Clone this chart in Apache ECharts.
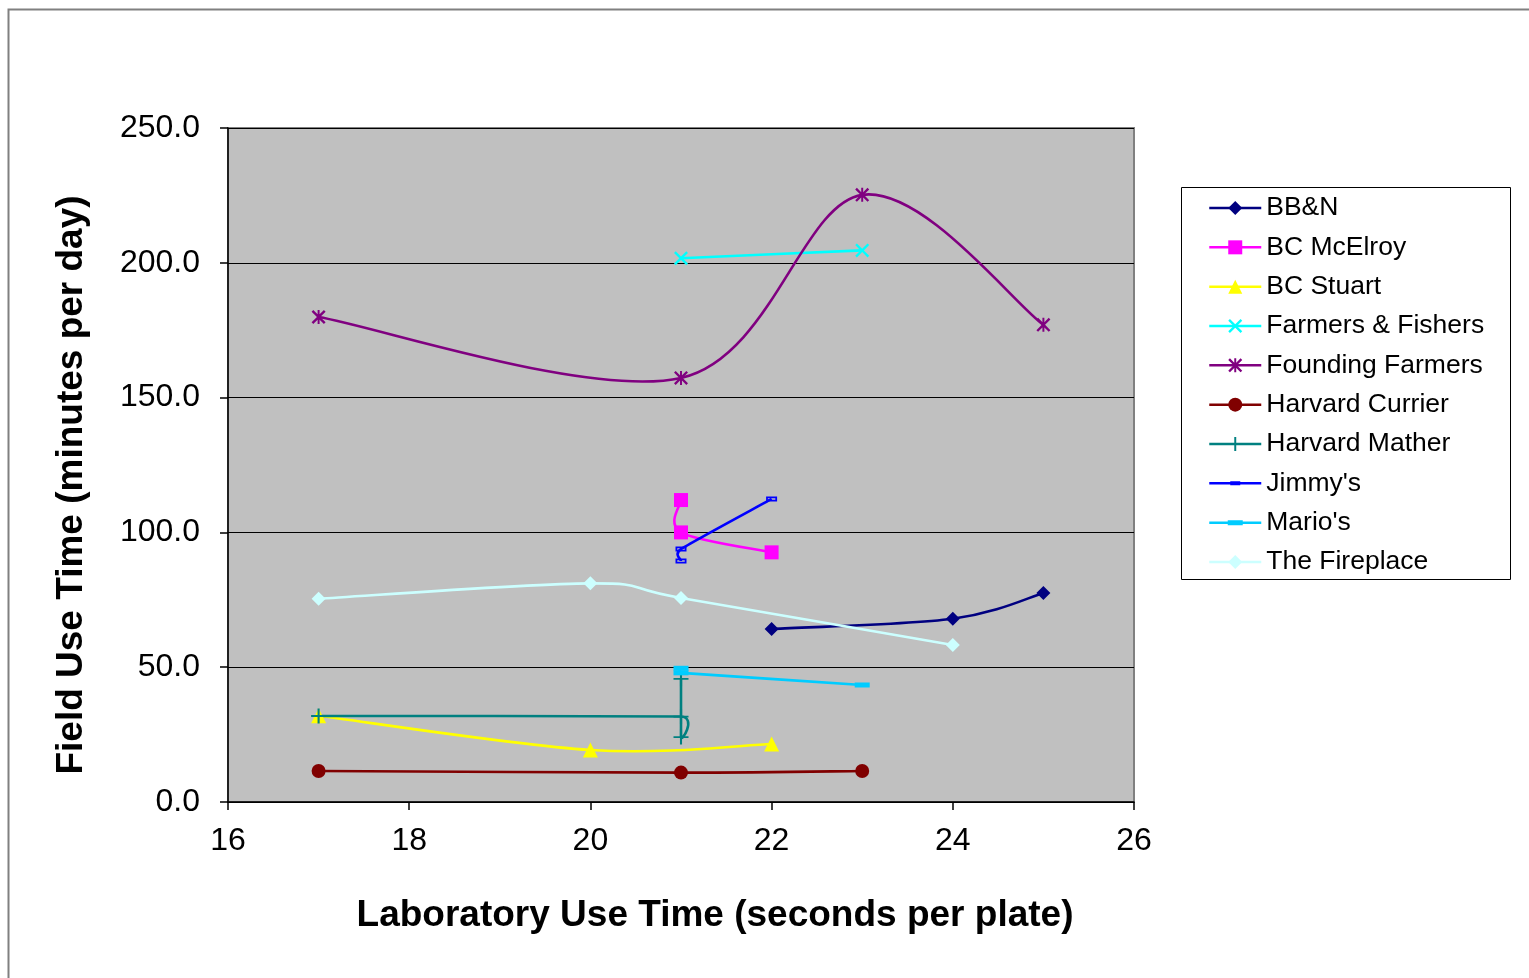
<!DOCTYPE html>
<html>
<head>
<meta charset="utf-8">
<script src="https://cdn.jsdelivr.net/npm/echarts@6/dist/echarts.min.js"></script>
<style>
  html, body { margin: 0; padding: 0; background: #ffffff; }
  #chart { width: 1529px; height: 978px; }
</style>
</head>
<body>
<div id="chart"></div>
<script>
// Laboratory use time (s/plate) vs field use time (min/day), one series per site.
const seriesNames = [
  'BB&N', 'BC McElroy', 'BC Stuart', 'Farmers & Fishers', 'Founding Farmers',
  'Harvard Currier', 'Harvard Mather', "Jimmy's", "Mario's", 'The Fireplace'
];

const bbn = [[22, 64.2], [24, 68.0], [25, 77.5]];
const bcMcElroy = [[21, 112.0], [21, 100.0], [22, 92.6]];
const bcStuart = [[17, 32.0], [20, 19.3], [22, 21.5]];
const farmersFishers = [[21, 201.7], [23, 204.6]];
const foundingFarmers = [[17, 179.9], [21, 157.3], [23, 225.2], [25, 177.0]];
const harvardCurrier = [[17, 11.5], [21, 10.9], [23, 11.5]];
const harvardMather = [[17, 31.9], [21, 31.7], [21, 24.1], [21, 45.7]];
const jimmys = [[21, 89.4], [21, 93.8], [22, 112.4]];
const marios = [[21, 49.6], [21, 47.9], [23, 43.4]];
const fireplace = [[17, 75.4], [20, 81.1], [21, 75.7], [24, 58.2]];

const xTicks = [16, 18, 20, 22, 24, 26];
const yTicks = [0, 50, 100, 150, 200, 250];

const xTitle = 'Laboratory Use Time (seconds per plate)';
const yTitle = 'Field Use Time (minutes per day)';

// marker shapes
const SYM_X = 'path://M0,1.2 L1.2,0 L5,3.8 L8.8,0 L10,1.2 L6.2,5 L10,8.8 L8.8,10 L5,6.2 L1.2,10 L0,8.8 L3.8,5 Z';
const SYM_STAR = 'path://M0,1.2 L1.2,0 L5,3.8 L8.8,0 L10,1.2 L6.2,5 L10,8.8 L8.8,10 L5,6.2 L1.2,10 L0,8.8 L3.8,5 Z M4.3,0 L5.7,0 L5.7,10 L4.3,10 Z';
const SYM_PLUS = 'path://M4.3,0 H5.7 V4.4 H10 V5.6 H5.7 V10 H4.3 V5.6 H0 V4.4 H4.3 Z';
// hollow short dash
const SYM_DASH_OPEN = 'path://M0,0 H10 V4 H0 Z M1.6,1.4 V2.6 H8.4 V1.4 Z';

// legend icons for the dash markers: line + dash inside a 52 x 17.5 box
const LEG_W = 52, LEG_H = 17.5;
const LEG_JIMMY = 'path://M0,0 L0,0 M52,17.5 L52,17.5 M0,7.5 H52 V10 H0 Z M21,6.75 H31 V10.75 H21 Z';
const LEG_MARIO = 'path://M0,0 L0,0 M52,17.5 L52,17.5 M0,7.5 H52 V10 H0 Z M18.5,6.25 H33.5 V11.25 H18.5 Z';

const styles = [
  { data: bbn, color: '#000080', symbol: 'diamond', size: 14 },
  { data: bcMcElroy, color: '#FF00FF', symbol: 'rect', size: 14 },
  { data: bcStuart, color: '#FFFF00', symbol: 'triangle', size: 15 },
  { data: farmersFishers, color: '#00FFFF', symbol: SYM_X, size: 14 },
  { data: foundingFarmers, color: '#800080', symbol: SYM_STAR, size: 14 },
  { data: harvardCurrier, color: '#800000', symbol: 'circle', size: 14 },
  { data: harvardMather, color: '#008080', symbol: SYM_PLUS, size: 15 },
  { data: jimmys, color: '#0000FF', symbol: SYM_DASH_OPEN, size: [11, 5], legendIcon: LEG_JIMMY },
  { data: marios, color: '#00CCFF', symbol: 'rect', size: [15, 5], legendIcon: LEG_MARIO },
  { data: fireplace, color: '#CCFFFF', symbol: 'diamond', size: 14 }
];

// Smoothed path through pixel points: cubic Bezier segments whose tangents are
// one sixth of the neighbour chord, shortened next to very short segments.
function smoothPathData(pts) {
  const n = pts.length;
  const tangents = pts.map((p, i) => {
    const a = pts[Math.max(i - 1, 0)];
    const b = pts[Math.min(i + 1, n - 1)];
    let vx = (b[0] - a[0]) / 6, vy = (b[1] - a[1]) / 6;
    const len = Math.hypot(vx, vy);
    const d = [Math.hypot(p[0] - a[0], p[1] - a[1]), Math.hypot(b[0] - p[0], b[1] - p[1])]
      .filter(v => v > 0);
    const cap = d.length ? 0.8 * Math.min(...d) : 0;
    if (len > cap && len > 0) { vx *= cap / len; vy *= cap / len; }
    return [vx, vy];
  });
  let s = 'M' + pts[0][0] + ',' + pts[0][1];
  for (let i = 0; i < n - 1; i++) {
    const p = pts[i], q = pts[i + 1], t0 = tangents[i], t1 = tangents[i + 1];
    s += ' C' + (p[0] + t0[0]) + ',' + (p[1] + t0[1]) + ' ' +
      (q[0] - t1[0]) + ',' + (q[1] - t1[1]) + ' ' + q[0] + ',' + q[1];
  }
  return s;
}

// markers (and legend entries)
const markerSeries = styles.map((s, i) => ({
  name: seriesNames[i],
  type: 'line',
  data: s.data,
  symbol: s.symbol,
  symbolSize: s.size,
  showAllSymbol: true,
  lineStyle: { color: s.color, width: 0 },
  itemStyle: { color: s.color, borderWidth: 0 },
  emphasis: { disabled: true },
  animation: false,
  z: 4
}));

// smoothed connecting curves
const curveSeries = styles.map((s, i) => ({
  name: seriesNames[i],
  type: 'custom',
  data: s.data,
  encode: { x: 0, y: 1 },
  animation: false,
  silent: true,
  z: 3,
  renderItem: function (params, api) {
    if (params.dataIndex !== 0) return null;
    const pts = s.data.map(d => api.coord(d));
    return {
      type: 'path',
      shape: { pathData: smoothPathData(pts) },
      style: { fill: 'none', stroke: s.color, lineWidth: 2.6 }
    };
  }
}));

const fontFamily = '"Liberation Sans", Arial, sans-serif';

const chart = echarts.init(document.getElementById('chart'), null, { renderer: 'canvas' });
chart.setOption({
  animation: false,
  backgroundColor: '#ffffff',
  grid: {
    left: 228, top: 128, right: 395, bottom: 176,
    show: true, backgroundColor: '#C0C0C0', borderColor: '#808080', borderWidth: 2
  },
  xAxis: {
    type: 'value',
    min: xTicks[0], max: xTicks[xTicks.length - 1], interval: 2,
    axisLine: { show: true, onZero: false, lineStyle: { color: '#000000', width: 1.5 } },
    axisTick: { show: true, length: 8, lineStyle: { color: '#000000', width: 1.5 } },
    axisLabel: { color: '#000000', fontSize: 32, fontFamily, margin: 23,
      formatter: v => String(v) },
    splitLine: { show: false }
  },
  yAxis: {
    type: 'value',
    min: yTicks[0], max: yTicks[yTicks.length - 1], interval: 50,
    axisLine: { show: true, lineStyle: { color: '#000000', width: 1.5 } },
    axisTick: { show: true, length: 8, lineStyle: { color: '#000000', width: 1.5 } },
    axisLabel: { color: '#000000', fontSize: 32, fontFamily, margin: 28,
      formatter: v => v.toFixed(1) },
    splitLine: { show: true, lineStyle: { color: '#000000', width: 1 } }
  },
  legend: {
    orient: 'vertical',
    left: 1208, top: 193,
    padding: 0,
    itemWidth: LEG_W, itemHeight: LEG_H, itemGap: 9.33,
    lineStyle: { width: 2.5 },
    textStyle: { color: '#000000', fontSize: 26.5, fontFamily, lineHeight: 30 },
    data: styles.map((s, i) => s.legendIcon
      ? { name: seriesNames[i], icon: s.legendIcon }
      : { name: seriesNames[i] }),
    selectedMode: false
  },
  graphic: [
    { type: 'rect', z: -10, silent: true,
      shape: { x: 8.5, y: 9.5, width: 1600, height: 1100 },
      style: { fill: 'none', stroke: '#808080', lineWidth: 2 } },
    { type: 'rect', z: 10, silent: true,
      shape: { x: 1181.5, y: 187.5, width: 329, height: 392 },
      style: { fill: 'none', stroke: '#000000', lineWidth: 1 } },
    { type: 'text', silent: true, x: 715, y: 916,
      style: { text: xTitle, fontSize: 37, fontWeight: 'bold', fontFamily,
        fill: '#000000', align: 'center', verticalAlign: 'middle' } },
    { type: 'text', silent: true, x: 72, y: 485, rotation: Math.PI / 2,
      style: { text: yTitle, fontSize: 37, fontWeight: 'bold', fontFamily,
        fill: '#000000', align: 'center', verticalAlign: 'middle' } }
  ],
  series: markerSeries.concat(curveSeries)
});
</script>
</body>
</html>
